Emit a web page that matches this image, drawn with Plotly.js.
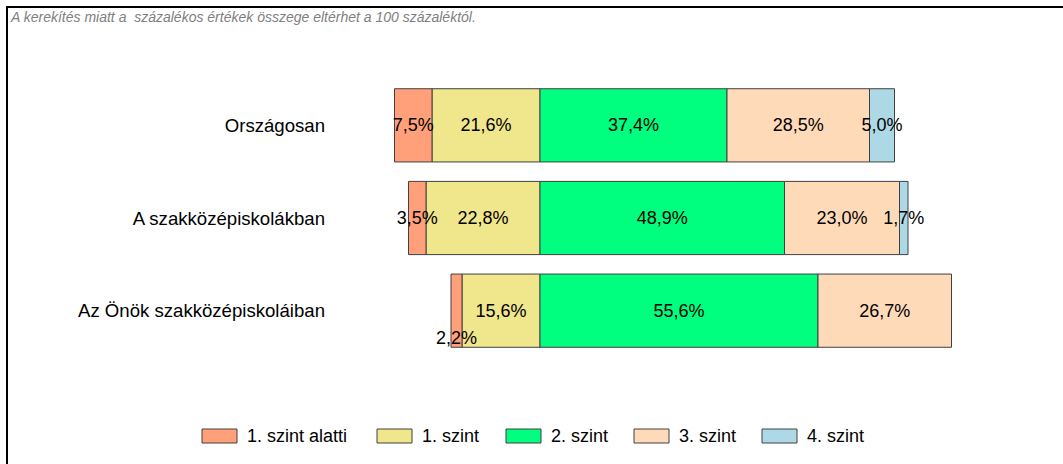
<!DOCTYPE html>
<html>
<head>
<meta charset="utf-8">
<script src="https://cdn.plot.ly/plotly-3.0.1.min.js"></script>
<style>html,body{margin:0;padding:0;background:#fff;}#chart{width:1063px;height:464px;}</style>
</head>
<body>
<div id="chart"></div>
<script>
const categories = ['Országosan', 'A szakközépiskolákban', 'Az Önök szakközépiskoláiban'];
const seriesNames = ['1. szint alatti', '1. szint', '2. szint', '3. szint', '4. szint'];
const below1 = [7.5, 3.5, 2.2];
const level1 = [21.6, 22.8, 15.6];
const level2 = [37.4, 48.9, 55.6];
const level3 = [28.5, 23.0, 26.7];
const level4 = [5.0, 1.7, null];
const colors = ['#FFA07A', '#F0E68C', '#00FF7F', '#FFDAB9', '#ADD8E6'];
const note = 'A kerekítés miatt a&nbsp; százalékos értékek összege eltérhet a 100 százaléktól.';

const fmt = v => (v == null ? '' : v.toFixed(1).replace('.', ',') + '%');
const FONT = 'Arial, "Liberation Sans", sans-serif';

// layout geometry (pixels)
const W = 1063, H = 464, L = 335, R = 23, T = 79, B = 107;
const PW = W - L - R, PH = H - T - B;
const px = x => (x - L) / PW;
const py = y => (H - B - y) / PH;

function barTrace(name, vals, color, negative, textArr) {
  return {
    type: 'bar', orientation: 'h', name: name,
    y: categories,
    x: vals.map(v => v == null ? null : (negative ? -v : v)),
    text: textArr || vals.map(fmt),
    textposition: 'inside', insidetextanchor: 'middle', textangle: 0,
    constraintext: 'none', cliponaxis: false,
    textfont: {family: FONT, size: 18, color: '#000'},
    marker: {color: color, line: {color: '#404040', width: 1}},
    hoverinfo: 'skip', showlegend: false
  };
}

// the small 2,2% label is drawn below the bar in the reference
const below1Text = below1.map((v, i) => i === 2 ? '' : fmt(v));

const traces = [
  barTrace(seriesNames[1], level1, colors[1], true),
  barTrace(seriesNames[0], below1, colors[0], true, below1Text),
  barTrace(seriesNames[2], level2, colors[2], false),
  barTrace(seriesNames[3], level3, colors[3], false),
  barTrace(seriesNames[4], level4, colors[4], false)
];

const shapes = [{
  type: 'rect', xref: 'paper', yref: 'paper',
  x0: px(7), x1: px(1100), y0: py(7), y1: py(520),
  line: {color: '#000', width: 2}, fillcolor: 'rgba(0,0,0,0)', layer: 'below'
}];
const annotations = [
  {xref: 'paper', yref: 'paper', x: px(8), y: py(17), xanchor: 'left', yanchor: 'middle',
   text: '<i>' + note + '</i>', showarrow: false,
   font: {family: FONT, size: 14, color: '#808080'}},
  {xref: 'x', yref: 'y', x: -(level1[2] + below1[2] / 2), y: categories[2], yshift: -27,
   text: fmt(below1[2]), showarrow: false,
   font: {family: FONT, size: 18, color: '#000'}}
];

// custom legend
const legendX = [202, 377, 506, 634, 762];
seriesNames.forEach((n, i) => {
  shapes.push({type: 'rect', xref: 'paper', yref: 'paper',
    x0: px(legendX[i]), x1: px(legendX[i] + 35), y0: py(429), y1: py(443),
    fillcolor: colors[i], line: {color: '#404040', width: 1}});
  annotations.push({xref: 'paper', yref: 'paper', x: px(legendX[i] + 43), y: py(436),
    xanchor: 'left', yanchor: 'middle', text: n, showarrow: false,
    font: {family: FONT, size: 18, color: '#000'}});
});

const layout = {
  width: W, height: H,
  margin: {l: L, r: R, t: T, b: B, pad: 0},
  paper_bgcolor: '#fff', plot_bgcolor: '#fff',
  barmode: 'relative', bargap: 0.21,
  showlegend: false,
  font: {family: FONT, size: 18, color: '#000'},
  xaxis: {range: [-41, 100], visible: false, fixedrange: true},
  yaxis: {type: 'category', autorange: 'reversed', showgrid: false, zeroline: false,
          showline: false, ticks: '', ticklabelstandoff: 9,
          tickfont: {family: FONT, size: 18.6, color: '#000'}},
  shapes: shapes, annotations: annotations
};

Plotly.newPlot('chart', traces, layout, {staticPlot: true, displayModeBar: false});
</script>
</body>
</html>
